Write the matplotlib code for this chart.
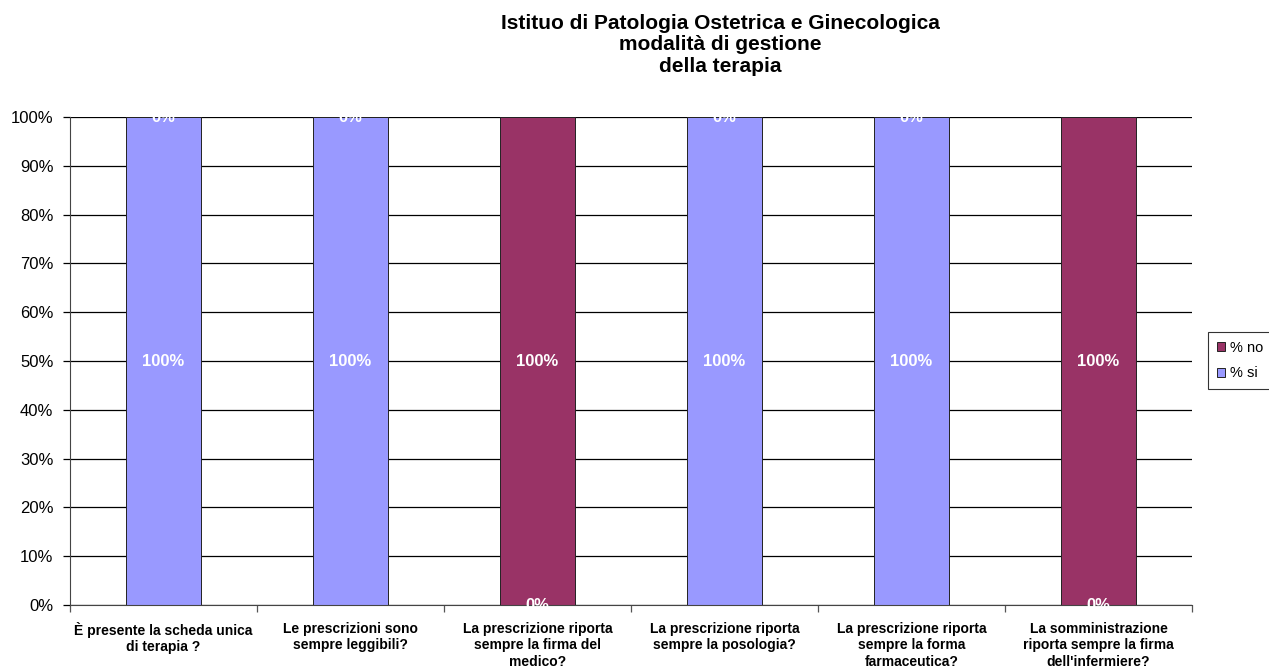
import matplotlib
matplotlib.use("Agg")
import matplotlib.pyplot as plt
from matplotlib.patches import Patch

categories = [
    "È presente la scheda unica\ndi terapia ?",
    "Le prescrizioni sono\nsempre leggibili?",
    "La prescrizione riporta\nsempre la firma del\nmedico?",
    "La prescrizione riporta\nsempre la posologia?",
    "La prescrizione riporta\nsempre la forma\nfarmaceutica?",
    "La somministrazione\nriporta sempre la firma\ndell'infermiere?",
]
pct_si = [100, 100, 0, 100, 100, 0]
pct_no = [0, 0, 100, 0, 0, 100]
series_names = ["% no", "% si"]
title = "Istituo di Patologia Ostetrica e Ginecologica\nmodalità di gestione\ndella terapia"

col_si = "#9999FF"
col_no = "#993366"

plt.rcParams["font.family"] = ["Liberation Sans", "DejaVu Sans"]

fig = plt.figure(figsize=(12.69, 6.70), dpi=100)
ax = fig.add_axes([70 / 1269, 65 / 670, 1122 / 1269, 488 / 670])

x = list(range(len(categories)))
w = 0.4
ax.bar(x, pct_si, width=w, color=col_si, edgecolor="#222222", linewidth=0.7, zorder=2)
ax.bar(x, pct_no, width=w, bottom=pct_si, color=col_no, edgecolor="#222222", linewidth=0.7, zorder=2)

for i in x:
    ax.text(i, pct_si[i] / 2, f"{pct_si[i]}%", color="white", fontsize=12, fontweight="bold",
            ha="center", va="center", zorder=3)
    ax.text(i, pct_si[i] + pct_no[i] / 2, f"{pct_no[i]}%", color="white", fontsize=12,
            fontweight="bold", ha="center", va="center", zorder=3)

ax.set_xlim(-0.5, len(categories) - 0.5)
ax.set_ylim(0, 100)
ax.set_yticks(range(0, 101, 10))
ax.set_yticklabels([f"{v}%" for v in range(0, 101, 10)], fontsize=12)
ax.yaxis.grid(True, color="black", linewidth=0.9, zorder=0)
ax.set_axisbelow(True)

ax.set_xticks([i + 0.5 for i in x[:-1]] + [-0.5, len(categories) - 0.5], minor=True)
ax.set_xticks(x)
ax.set_xticklabels(categories, fontsize=10, fontweight="bold", linespacing=1.25)
ax.tick_params(axis="x", which="major", length=0, pad=12)
ax.tick_params(axis="x", which="minor", length=5, width=0.9, color="#555555")
ax.tick_params(axis="y", length=5, width=0.9, pad=7)

for s in ["top", "right"]:
    ax.spines[s].set_visible(False)
ax.spines["left"].set_color("#444444")
ax.spines["bottom"].set_color("#444444")

fig.text(720 / 1269, 1 - 45 / 670, title, ha="center", va="center", fontsize=15,
         fontweight="bold", linespacing=1.15)

handles = [Patch(facecolor=col_no, edgecolor="#222222", linewidth=0.7),
           Patch(facecolor=col_si, edgecolor="#222222", linewidth=0.7)]
leg = fig.legend(handles, series_names, loc="upper left", mode="expand",
                 bbox_to_anchor=(1208 / 1269, (670 - 388) / 670, 90 / 1269, 56 / 670),
                 fontsize=10.5, frameon=True, fancybox=False, edgecolor="black",
                 handlelength=0.55, handleheight=0.55, handletextpad=0.35, labelspacing=0.8,
                 borderpad=0.6, borderaxespad=0)
leg.get_frame().set_linewidth(0.8)

fig.savefig("out.png", dpi=100)
